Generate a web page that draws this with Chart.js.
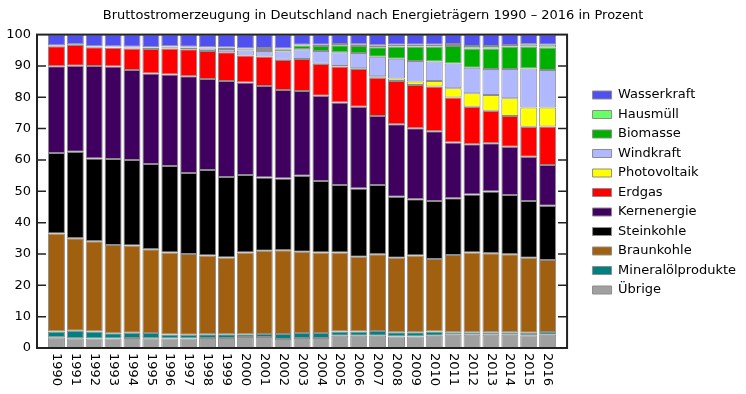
<!DOCTYPE html>
<html>
<head>
<meta charset="utf-8">
<script src="https://cdn.jsdelivr.net/npm/chart.js@4.4.0/dist/chart.umd.min.js"></script>
<style>
  html, body { margin: 0; padding: 0; background: #fff; }
  #wrap { width: 746px; height: 394px; }
</style>
</head>
<body>
<div id="wrap"><canvas id="strom"></canvas></div>
<script>
// Anteile an der Bruttostromerzeugung in %
var jahre = ["1990","1991","1992","1993","1994","1995","1996","1997","1998","1999","2000","2001","2002","2003","2004","2005","2006","2007","2008","2009","2010","2011","2012","2013","2014","2015","2016"];

var uebrige      = [3.4,3.1,3.0,3.0,3.2,3.1,3.0,3.0,3.2,3.2,3.5,3.5,2.9,3.2,3.2,3.9,3.9,3.9,3.7,3.7,3.9,4.2,4.2,4.2,4.2,4.1,4.2];
var mineraloel   = [1.9,2.4,2.3,1.7,1.7,1.7,1.3,1.2,1.2,1.2,0.9,1.0,1.6,1.6,1.6,1.4,1.4,1.5,1.3,1.3,1.4,0.8,0.8,0.8,0.8,0.8,0.9];
var braunkohle   = [31.2,29.5,28.8,28.2,27.8,26.7,26.2,25.8,25.1,24.5,26.1,26.5,26.7,25.9,25.7,25.2,23.8,24.5,23.8,24.5,23.1,24.7,25.5,25.2,24.9,23.9,23.0];
var steinkohle   = [25.7,27.6,26.4,27.4,27.3,27.2,27.6,25.8,27.3,25.7,24.7,23.4,22.9,24.3,22.8,21.5,21.8,22.1,19.5,18.0,18.5,18.1,18.5,19.7,18.9,18.1,17.3];
var kernenergie  = [27.7,27.5,29.5,29.5,28.7,28.9,29.2,30.9,29.0,30.6,29.5,29.2,28.2,27.0,27.2,26.3,26.1,22.0,23.1,22.6,22.3,17.8,16.0,15.4,15.4,14.1,13.0];
var erdgas       = [6.4,6.6,6.0,6.0,6.9,7.8,8.3,8.6,9.0,9.2,8.6,9.4,9.6,10.2,10.1,11.5,12.0,12.2,13.8,13.8,14.2,14.3,12.0,10.4,9.8,9.6,12.3];
var photovoltaik = [0,0,0,0,0,0,0,0,0,0,0,0,0.05,0.05,0.1,0.2,0.3,0.5,0.8,1.1,1.8,3.0,4.3,5.0,5.7,6.1,6.0];
var windkraft    = [0,0,0.05,0.1,0.2,0.3,0.4,0.5,0.8,1.0,1.6,1.8,2.65,3.05,4.1,4.4,4.8,6.2,6.3,6.6,6.2,7.9,8.1,8.3,9.3,12.5,12.0];
var biomasse     = [0,0,0.05,0.05,0.1,0.1,0.1,0.1,0.2,0.3,0.4,0.6,0.7,1.2,1.6,2.2,2.3,3.1,3.9,4.6,4.8,5.6,6.2,6.6,7.2,7.0,7.2];
var hausmuell    = [0.2,0.2,0.2,0.25,0.2,0.2,0.2,0.2,0.2,0.2,0.3,0.3,0.3,0.3,0.4,0.4,0.5,0.6,0.6,0.6,0.6,0.6,0.8,0.8,0.5,0.7,0.9];
var wasserkraft  = [3.5,3.1,3.7,3.8,3.9,4.0,3.7,3.9,4.0,4.1,4.4,4.3,4.4,3.2,3.2,3.0,3.1,3.4,3.2,3.2,3.2,3.0,3.6,3.6,3.3,3.1,3.2];

var schrift = '"DejaVu Sans", sans-serif';

function reihe(name, werte, farbe) {
	return {
		label: name,
		data: werte,
		backgroundColor: farbe,
		borderColor: "#8c8c8c",
		borderWidth: 1,
		borderSkipped: false,
		barPercentage: 0.9,
		categoryPercentage: 1.0
	};
}

// Rahmen mit Innenstrichen und senkrechte Jahreszahlen
var rahmen = {
	id: 'rahmen',
	afterDatasetsDraw: function(chart) {
		var ctx = chart.ctx, a = chart.chartArea;
		var x = chart.scales.x, y = chart.scales.y;
		var l = a.left - 10, r = a.right + 10;
		ctx.save();
		ctx.strokeStyle = "#222";
		ctx.lineWidth = 2;
		ctx.strokeRect(l, a.top, r - l, a.bottom - a.top);
		ctx.lineWidth = 1.5;
		for (var v = 10; v < 100; v += 10) {
			var py = y.getPixelForValue(v);
			ctx.beginPath();
			ctx.moveTo(l, py); ctx.lineTo(l + 9, py);
			ctx.moveTo(r, py); ctx.lineTo(r - 9, py);
			ctx.stroke();
		}
		ctx.fillStyle = "#000";
		ctx.font = "13px " + schrift;
		ctx.textAlign = "left";
		ctx.textBaseline = "middle";
		jahre.forEach(function(j, i) {
			ctx.save();
			ctx.translate(x.getPixelForValue(i), a.bottom + 5);
			ctx.rotate(Math.PI / 2);
			ctx.fillText(j, 0, 0);
			ctx.restore();
		});
		ctx.restore();
	}
};

new Chart(document.getElementById("strom"), {
	type: 'bar',
	data: {
		labels: jahre,
		datasets: [
			reihe("Übrige", uebrige, "#a0a0a0"),
			reihe("Mineralölprodukte", mineraloel, "#008080"),
			reihe("Braunkohle", braunkohle, "#a0600f"),
			reihe("Steinkohle", steinkohle, "#000000"),
			reihe("Kernenergie", kernenergie, "#400060"),
			reihe("Erdgas", erdgas, "#ff0000"),
			reihe("Photovoltaik", photovoltaik, "#ffff00"),
			reihe("Windkraft", windkraft, "#b0b8ff"),
			reihe("Biomasse", biomasse, "#00b000"),
			reihe("Hausmüll", hausmuell, "#66ff66"),
			reihe("Wasserkraft", wasserkraft, "#5050f0")
		]
	},
	options: {
		responsive: true,
		maintainAspectRatio: false,
		animation: false,
		layout: { padding: { left: 0, right: 0, top: 0, bottom: 46 } },
		scales: {
			x: {
				stacked: true,
				display: false
			},
			y: {
				stacked: true,
				min: 0,
				max: 100,
				grid: { display: false, drawTicks: false },
				border: { display: false },
				ticks: {
					stepSize: 10,
					padding: 16,
					color: "#000",
					font: { family: schrift, size: 13 }
				},
				afterFit: function(s) { s.width = 47; }
			},
			rechts: {
				position: 'right',
				display: false,
				afterFit: function(s) { s.width = 29; }
			}
		},
		plugins: {
			title: {
				display: true,
				text: "Bruttostromerzeugung in Deutschland nach Energieträgern 1990 – 2016 in Prozent",
				color: "#000",
				font: { family: schrift, size: 13, weight: 'normal' },
				padding: { top: 8, bottom: 11 }
			},
			legend: {
				position: 'right',
				reverse: true,
				// leerer Titel schiebt die Einträge etwas nach unten
				title: { display: true, text: '', font: { size: 12 }, padding: { top: 22.6, bottom: 0 } },
				labels: {
					boxWidth: 19,
					boxHeight: 8,
					padding: 6.5,
					color: "#000",
					font: { family: schrift, size: 13 }
				}
			},
			tooltip: { enabled: false }
		}
	},
	plugins: [rahmen]
});
</script>
</body>
</html>
